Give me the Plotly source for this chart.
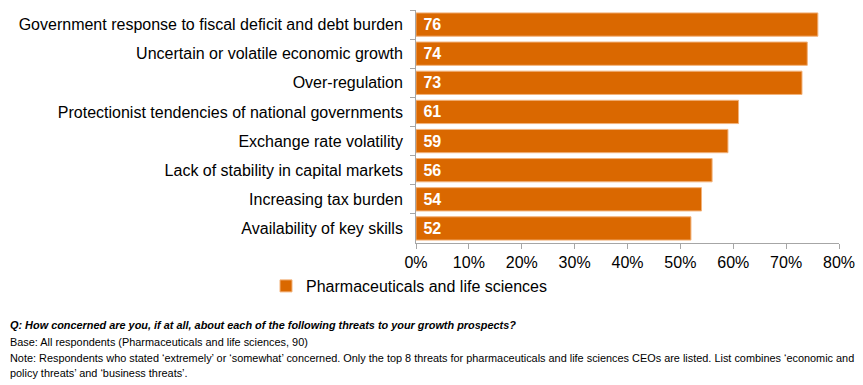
import plotly.graph_objects as go

categories = [
    "Government response to fiscal deficit and debt burden",
    "Uncertain or volatile economic growth",
    "Over-regulation",
    "Protectionist tendencies of national governments",
    "Exchange rate volatility",
    "Lack of stability in capital markets",
    "Increasing tax burden",
    "Availability of key skills",
]
values = [76, 74, 73, 61, 59, 56, 54, 52]
series_name = "Pharmaceuticals and life sciences"
x_ticks = [0, 10, 20, 30, 40, 50, 60, 70, 80]
x_tick_labels = [f"{t}%" for t in x_ticks]

# page body has an 8px margin; compensate so the figure fills the 863x385 window
OFF = 8
W, H = 863 - OFF, 385 - OFF
ml, mr, mt, mb = 416 - OFF, 24, 10 - OFF, 142
pw, ph = W - ml - mr, H - mt - mb


def px_x(xa):
    return (xa - OFF - ml) / pw


def px_y(ya):
    return (H - mb - (ya - OFF)) / ph


fig = go.Figure()
fig.add_trace(go.Bar(
    y=categories, x=values, orientation="h", name=series_name,
    marker=dict(color="#DA6800", line=dict(color="#F2B27A", width=1)),
    text=["\u00a0" + str(v) for v in values], textposition="inside", insidetextanchor="start",
    textfont=dict(family="Liberation Sans", size=16, color="white", weight="bold"),
    showlegend=True,
))

fig.update_layout(
    width=W, height=H,
    margin=dict(l=ml, r=mr, t=mt, b=mb, autoexpand=False),
    plot_bgcolor="white", paper_bgcolor="white",
    font=dict(family="Liberation Sans", size=16, color="black"),
    bargap=0.2,
    xaxis=dict(range=[0, 80], tickvals=x_ticks, ticktext=x_tick_labels, automargin=False,
               showgrid=False, zeroline=False, showline=True, linecolor="#A6A6A6",
               ticks="outside", ticklen=5, tickcolor="#A6A6A6", tickfont=dict(size=16)),
    yaxis=dict(autorange="reversed", showgrid=False, showline=True, linecolor="#A6A6A6",
               automargin=False,
               ticks="outside", ticklen=5, tickcolor="#A6A6A6", tickson="boundaries",
               tickfont=dict(size=16), ticksuffix="\u00a0\u00a0"),
    legend=dict(x=px_x(266), xanchor="left", y=px_y(286), yanchor="middle",
                font=dict(size=16), bgcolor="rgba(0,0,0,0)", itemwidth=30),
    uniformtext=dict(minsize=10, mode="show"),
)

notes = [
    ("<b><i>Q: How concerned are you, if at all, about each of the following threats to your growth prospects?</i></b>", 325),
    ("Base: All respondents (Pharmaceuticals and life sciences, 90)", 342),
    ("Note: Respondents who stated ‘extremely’ or ‘somewhat’ concerned. Only the top 8 threats for pharmaceuticals and life sciences CEOs are listed. List combines ‘economic and", 358),
    ("policy threats’ and ‘business threats’.", 373),
]
for txt, ypx in notes:
    fig.add_annotation(text=txt, xref="paper", yref="paper",
                       x=px_x(8), xanchor="left",
                       y=px_y(ypx), yanchor="middle",
                       showarrow=False, font=dict(family="Liberation Sans", size=10.9, color="black"))

fig.write_html("out.html")
